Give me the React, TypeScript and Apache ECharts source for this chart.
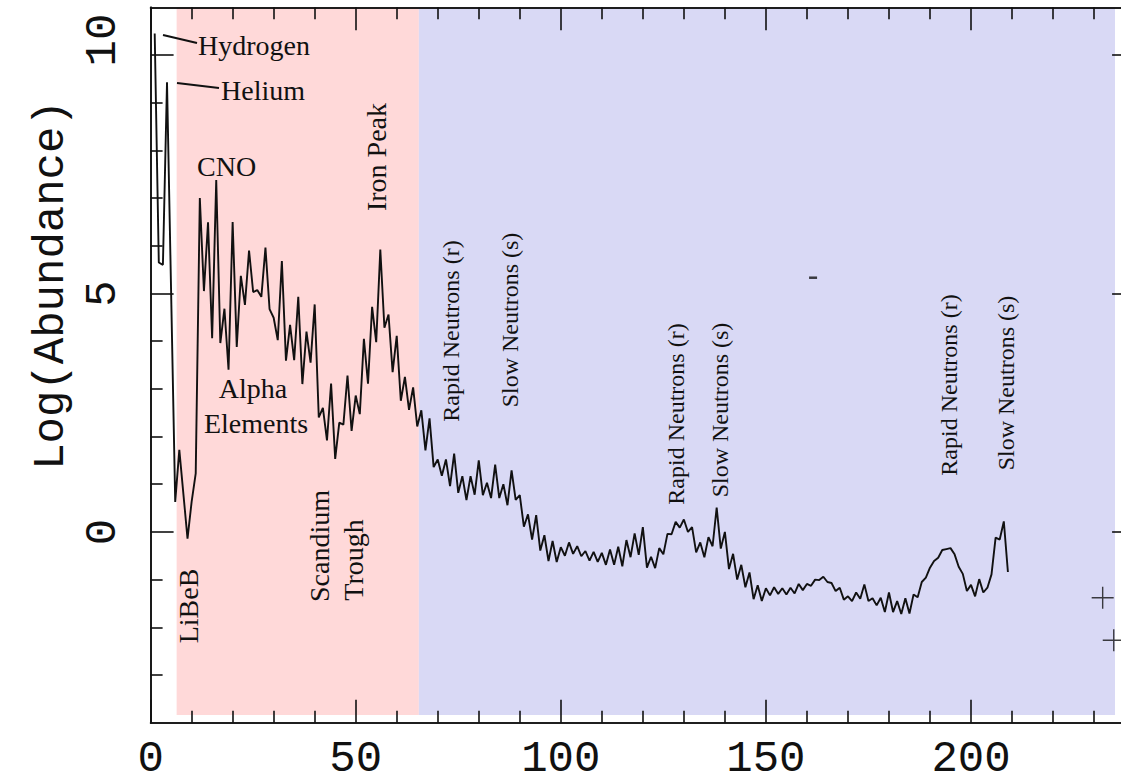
import React, { useEffect, useRef } from "react";
import * as echarts from "echarts";

// Mass number (A) and log10 abundance (Si = 1e6); A = 5 and 8 absent
const massNumbers = [
  1, 2, 3, 4, 6, 7, 9, 10, 11, 12, 13, 14, 15, 16, 17, 18, 19, 20,
  21, 22, 23, 24, 25, 26, 27, 28, 29, 30, 31, 32, 33, 34, 35, 36, 37, 38, 39, 40,
  41, 42, 43, 44, 45, 46, 47, 48, 49, 50, 51, 52, 53, 54, 55, 56, 57, 58, 59, 60,
  61, 62, 63, 64, 65, 66, 67, 68, 69, 70, 71, 72, 73, 74, 75, 76, 77, 78, 79, 80,
  81, 82, 83, 84, 85, 86, 87, 88, 89, 90, 91, 92, 93, 94, 95, 96, 97, 98, 99, 100,
  101, 102, 103, 104, 105, 106, 107, 108, 109, 110, 111, 112, 113, 114, 115, 116, 117, 118, 119, 120,
  121, 122, 123, 124, 125, 126, 127, 128, 129, 130, 131, 132, 133, 134, 135, 136, 137, 138, 139, 140,
  141, 142, 143, 144, 145, 146, 147, 148, 149, 150, 151, 152, 153, 154, 155, 156, 157, 158, 159, 160,
  161, 162, 163, 164, 165, 166, 167, 168, 169, 170, 171, 172, 173, 174, 175, 176, 177, 178, 179, 180,
  181, 182, 183, 184, 185, 186, 187, 188, 189, 190, 191, 192, 193, 194, 195, 196, 197, 198, 199, 200,
  201, 202, 203, 204, 205, 206, 207, 208, 209,
];
const logAbundance = [
  10.45, 5.65, 5.6, 9.43, 0.63, 1.72, -0.14, 0.63, 1.23, 7.0, 5.05, 6.49, 4.06, 7.38, 3.96, 4.68, 3.4, 6.5,
  3.88, 5.37, 4.76, 5.9, 5.03, 5.07, 4.93, 5.96, 4.67, 4.49, 4.02, 5.68, 3.59, 4.34, 3.6, 4.93, 3.1, 4.2, 3.55, 4.77,
  2.4, 2.6, 1.92, 3.11, 1.53, 2.29, 2.25, 3.28, 2.12, 2.86, 2.47, 4.05, 3.11, 4.72, 3.98, 5.92, 4.28, 4.56, 3.35, 4.11,
  2.75, 3.25, 2.56, 3.03, 2.21, 2.55, 1.71, 2.38, 1.36, 1.52, 1.18, 1.52, 0.96, 1.64, 0.82, 1.17, 0.67, 1.17, 0.78, 1.5,
  0.77, 1.03, 0.71, 1.41, 0.71, 1.0, 0.56, 1.29, 0.67, 0.77, 0.11, 0.37, -0.16, 0.35, -0.39, -0.07, -0.61, -0.19, -0.63, -0.32,
  -0.5, -0.22, -0.46, -0.3, -0.51, -0.4, -0.6, -0.42, -0.63, -0.44, -0.69, -0.37, -0.69, -0.31, -0.72, -0.17, -0.53, -0.03, -0.48, 0.1,
  -0.75, -0.52, -0.76, -0.34, -0.47, -0.04, -0.05, 0.21, 0.09, 0.26, 0.0, 0.1, -0.43, -0.22, -0.53, -0.11, -0.3, 0.51, -0.35, 0.0,
  -0.78, -0.46, -1.0, -0.69, -1.16, -0.85, -1.41, -1.12, -1.45, -1.18, -1.33, -1.16, -1.3, -1.18, -1.31, -1.17, -1.29, -1.09, -1.22, -1.09,
  -1.13, -1.0, -1.01, -0.94, -1.05, -1.07, -1.24, -1.17, -1.42, -1.35, -1.45, -1.27, -1.4, -1.1, -1.45, -1.39, -1.54, -1.38, -1.68, -1.27,
  -1.68, -1.45, -1.72, -1.39, -1.71, -1.31, -1.37, -1.05, -0.96, -0.75, -0.61, -0.54, -0.38, -0.36, -0.34, -0.47, -0.73, -0.88, -1.24, -1.11,
  -1.35, -0.99, -1.27, -1.17, -0.89, -0.12, -0.16, 0.22, -0.84,
];

// stray marks in the original plot
const strayDashes = [[161.5, 5.33]];
const strayCrosses = [
  [232.1, -1.38],
  [234.8, -2.27],
];

// shaded bands (mass-number ranges)
const bandStarts = [6.35, 65.4];
const bandEnds = [65.4, 235.1];
const bandColors = ["#ffd9d9", "#d9d9f5"];
const bandBottom = -3.84;

// axes
const X_MIN = 0;
const X_MAX = 240;
const Y_MIN = -4;
const Y_MAX = 11;
const xMajorTicks = [0, 50, 100, 150, 200];
const xMinorTicks = [10, 20, 30, 40, 60, 70, 80, 90, 110, 120, 130, 140, 160, 170, 180, 190, 210, 220, 230];
const yMajorTicks = [0, 5, 10];
const yMinorTicks = [-3, -2, -1, 1, 2, 3, 4, 6, 7, 8, 9];

const MONO = "'Liberation Mono', 'DejaVu Sans Mono', monospace";
const SERIF = "'Liberation Serif', 'DejaVu Serif', serif";
const INK = "#111111";

const labelTexts = [
  { t: "Hydrogen", x: 198, y: 45, r: 0, s: 28, a: "left" },
  { t: "Helium", x: 221, y: 90, r: 0, s: 28, a: "left" },
  { t: "CNO", x: 197, y: 166, r: 0, s: 28, a: "left" },
  { t: "Alpha", x: 253, y: 388, r: 0, s: 28, a: "center" },
  { t: "Elements", x: 256, y: 423, r: 0, s: 28, a: "center" },
  { t: "Iron Peak", x: 376, y: 157, r: 1, s: 28, a: "center" },
  { t: "LiBeB", x: 188, y: 606, r: 1, s: 28, a: "center" },
  { t: "Scandium", x: 319, y: 546, r: 1, s: 28, a: "center" },
  { t: "Trough", x: 353, y: 560, r: 1, s: 28, a: "center" },
  { t: "Rapid Neutrons (r)", x: 451, y: 331, r: 1, s: 24, a: "center" },
  { t: "Slow Neutrons (s)", x: 510, y: 320, r: 1, s: 24, a: "center" },
  { t: "Rapid Neutrons (r)", x: 676, y: 414, r: 1, s: 24, a: "center" },
  { t: "Slow Neutrons (s)", x: 720, y: 410, r: 1, s: 24, a: "center" },
  { t: "Rapid Neutrons (r)", x: 949, y: 385, r: 1, s: 24, a: "center" },
  { t: "Slow Neutrons (s)", x: 1006, y: 383, r: 1, s: 24, a: "center" },
];

const tickFont = { fontFamily: MONO, fontSize: 44, color: INK };

function makeX(position: "top" | "bottom", ticks: number[], len: number, labels: boolean) {
  return {
    type: "value",
    position,
    min: X_MIN,
    max: X_MAX,
    z: 10,
    axisLine: { show: true, onZero: false, lineStyle: { color: INK, width: 1.6 } },
    axisTick: { show: true, inside: true, length: len, customValues: ticks, lineStyle: { color: INK, width: 1.6 } },
    axisLabel: labels ? { show: true, customValues: ticks, margin: 14, ...tickFont } : { show: false },
    splitLine: { show: false },
  };
}

function makeY(position: "left" | "right", ticks: number[], len: number, labels: boolean) {
  return {
    type: "value",
    position,
    min: Y_MIN,
    max: Y_MAX,
    z: 10,
    axisLine: { show: true, onZero: false, lineStyle: { color: INK, width: 1.6 } },
    axisTick: { show: true, inside: true, length: len, customValues: ticks, lineStyle: { color: INK, width: 1.6 } },
    axisLabel: labels
      ? {
          show: true,
          customValues: ticks,
          rotate: 90,
          margin: 26,
          ...tickFont,
          formatter: (v: number) => (v === 10 ? "{top|10}" : "{n|" + v + "}"),
          rich: {
            top: { ...tickFont, padding: [0, 0, 0, 30] },
            n: { ...tickFont },
          },
        }
      : { show: false },
    splitLine: { show: false },
    name: labels ? "Log(Abundance)" : "",
    nameLocation: "middle",
    nameRotate: 90,
    nameGap: 61,
    nameTextStyle: { ...tickFont, padding: [0, 0, 0, 160] },
  };
}

export default function App() {
  const ref = useRef<HTMLDivElement>(null);
  useEffect(() => {
    if (!ref.current) return;
    document.body.style.margin = "0";
    const chart = echarts.init(ref.current, null, { renderer: "svg" });
    const plusPath = "path://M0,9.3H22V10.7H0Z M10.3,0H11.7V20H10.3Z";

    const graphics: any[] = labelTexts.map((l) => ({
      type: "text",
      x: l.x,
      y: l.y,
      rotation: l.r ? Math.PI / 2 : 0,
      z: 20,
      style: {
        text: l.t,
        fill: INK,
        font: `${l.s}px ${SERIF}`,
        align: l.a,
        verticalAlign: "middle",
      },
    }));
    graphics.push(
      { type: "line", z: 20, shape: { x1: 163, y1: 35, x2: 197, y2: 43 }, style: { stroke: INK, lineWidth: 2 } },
      { type: "line", z: 20, shape: { x1: 177, y1: 83, x2: 219, y2: 88 }, style: { stroke: INK, lineWidth: 2 } }
    );

    chart.setOption({
      animation: false,
      backgroundColor: "#ffffff",
      grid: { left: 150.6, top: 7.3, width: (X_MAX - X_MIN) * 4.102, height: 715.4, containLabel: false },
      xAxis: [
        makeX("bottom", xMajorTicks, 23, true),
        makeX("bottom", xMinorTicks, 12, false),
        makeX("top", xMajorTicks, 23, false),
        makeX("top", xMinorTicks, 12, false),
      ],
      yAxis: [
        makeY("left", yMajorTicks, 23, true),
        makeY("left", yMinorTicks, 12, false),
        makeY("right", yMajorTicks, 23, false),
        makeY("right", yMinorTicks, 12, false),
      ],
      graphic: graphics,
      series: [
        {
          type: "line",
          z: 1,
          data: [],
          silent: true,
          markArea: {
            silent: true,
            data: bandStarts.map((s, i) => [
              { xAxis: s, yAxis: bandBottom, itemStyle: { color: bandColors[i], opacity: 1 } },
              { xAxis: bandEnds[i], yAxis: Y_MAX },
            ]),
          },
        },
        {
          type: "line",
          z: 3,
          data: massNumbers.map((a, i) => [a, logAbundance[i]]),
          symbol: "none",
          lineStyle: { color: INK, width: 1.9 },
          silent: true,
        },
        {
          type: "scatter",
          z: 3,
          data: strayDashes,
          symbol: "rect",
          symbolSize: [8, 2.5],
          itemStyle: { color: INK },
          silent: true,
        },
        {
          type: "scatter",
          z: 3,
          data: strayCrosses,
          symbol: plusPath,
          symbolSize: 22,
          itemStyle: { color: INK },
          silent: true,
        },
      ],
    });
    return () => chart.dispose();
  }, []);
  return <div ref={ref} style={{ position: "fixed", left: 0, top: 0, width: 1150, height: 783 }} />;
}
